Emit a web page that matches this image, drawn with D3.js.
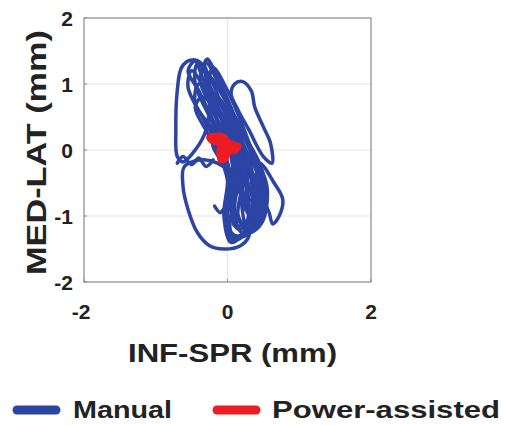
<!DOCTYPE html>
<html>
<head>
<meta charset="utf-8">
<script src="https://cdn.jsdelivr.net/npm/d3@7"></script>
<style>
  body { margin: 0; background: #fff; }
  text { font-family: "Liberation Sans", Arial, sans-serif; font-weight: bold; fill: #222; }
</style>
</head>
<body>
<svg id="chart" width="516" height="425"></svg>
<script>
// tick values
const xTicks = [-2, 0, 2];
const yTicks = [-2, -1, 0, 1, 2];
const gridX = [0];
const gridY = [-1, 0, 1];

// Manual trajectory loops (mm)
const manualDense = [
  [[-0.42,1.3],[-0.2,1.05],[0.05,0.6],[0.3,0.1],[0.45,-0.5],[0.38,-1.0],[0.12,-1.32],[0.0,-1.1],[0.05,-0.5],[-0.05,0.0],[-0.25,0.5],[-0.45,1.0]],
  [[-0.3,1.32],[-0.12,1.0],[0.1,0.5],[0.35,-0.1],[0.5,-0.6],[0.4,-1.1],[0.2,-1.25],[0.1,-0.9],[0.15,-0.4],[0.0,0.1],[-0.2,0.6],[-0.38,1.05]],
  [[-0.5,1.2],[-0.3,0.9],[-0.1,0.5],[0.2,0.0],[0.35,-0.6],[0.3,-1.15],[0.05,-1.4],[-0.05,-1.0],[0.0,-0.4],[-0.15,0.1],[-0.35,0.5],[-0.55,0.95]],
  [[-0.25,1.1],[0.0,0.7],[0.25,0.2],[0.48,-0.3],[0.52,-0.9],[0.3,-1.2],[0.15,-1.0],[0.2,-0.5],[0.1,0.0],[-0.1,0.5],[-0.3,0.9]],
  [[-0.4,1.0],[-0.15,0.8],[0.1,0.3],[0.3,-0.2],[0.42,-0.8],[0.25,-1.3],[0.05,-1.25],[0.08,-0.7],[0.0,-0.2],[-0.2,0.3],[-0.45,0.7]],
  [[-0.2,1.25],[0.0,0.9],[0.2,0.4],[0.4,-0.2],[0.55,-0.7],[0.45,-1.05],[0.25,-0.9],[0.28,-0.4],[0.15,0.1],[-0.05,0.6],[-0.25,1.0]],
  [[-0.35,0.8],[-0.1,0.55],[0.15,0.1],[0.35,-0.4],[0.35,-1.0],[0.15,-1.35],[-0.02,-1.15],[0.02,-0.6],[-0.1,-0.1],[-0.3,0.3],[-0.45,0.65]],
  [[-0.1,0.7],[0.15,0.35],[0.38,-0.1],[0.55,-0.55],[0.48,-1.1],[0.3,-1.25],[0.2,-0.85],[0.22,-0.35],[0.05,0.1],[-0.15,0.45]],
  [[-0.45,1.35],[-0.35,1.1],[-0.2,0.8],[0.0,0.35],[0.1,0.0],[0.0,0.05],[-0.2,0.45],[-0.4,0.9],[-0.55,1.2]],
  [[-0.28,1.38],[-0.18,1.2],[-0.05,0.9],[0.1,0.5],[0.2,0.1],[0.1,0.2],[-0.05,0.6],[-0.2,1.0],[-0.32,1.3]],
  [[0.0,0.2],[0.2,-0.1],[0.4,-0.5],[0.45,-0.9],[0.3,-1.15],[0.1,-1.0],[0.1,-0.5],[0.05,-0.1]],
  [[0.05,0.0],[0.3,-0.3],[0.42,-0.7],[0.35,-1.05],[0.15,-1.2],[0.05,-0.9],[0.12,-0.4]],
  [[0.1,-0.1],[0.25,-0.4],[0.35,-0.8],[0.25,-1.1],[0.1,-1.15],[0.08,-0.7]],
  [[0.15,0.2],[0.35,-0.2],[0.5,-0.6],[0.45,-1.0],[0.3,-0.95],[0.28,-0.5],[0.2,-0.1]],
  [[-0.05,0.4],[0.2,0.05],[0.35,-0.35],[0.38,-0.75],[0.22,-0.7],[0.15,-0.3],[0.05,0.1]],
  [[0.05,-0.3],[0.2,-0.6],[0.3,-1.0],[0.2,-1.3],[0.05,-1.35],[0.0,-1.0],[0.05,-0.6]],
  [[-0.15,0.8],[0.05,0.5],[0.25,0.0],[0.3,-0.3],[0.15,-0.1],[-0.05,0.3],[-0.25,0.7]],
  [[0.2,-0.2],[0.4,-0.45],[0.5,-0.8],[0.42,-1.15],[0.3,-1.2],[0.3,-0.8],[0.25,-0.45]],
  [[-0.2,0.35],[0.0,0.15],[0.15,-0.15],[0.1,-0.35],[-0.05,-0.2],[-0.2,0.05]]
];
const manualOuter = [
  [[-0.52,1.36],[-0.38,1.33],[-0.3,1.1],[-0.25,0.7],[-0.3,0.3],[-0.45,0.0],[-0.62,-0.18],[-0.7,-0.1],[-0.72,0.3],[-0.7,0.9],[-0.64,1.25]],
  [[0.1,1.0],[0.2,1.04],[0.33,0.9],[0.38,0.65],[0.5,0.35],[0.6,0.1],[0.62,-0.2],[0.5,-0.1],[0.3,0.3],[0.15,0.6],[0.05,0.85]],
  [[0.45,-0.2],[0.65,-0.5],[0.77,-0.75],[0.72,-1.0],[0.63,-1.12],[0.58,-0.95],[0.5,-0.75],[0.4,-0.5]],
  [[-0.6,-0.25],[-0.62,-0.55],[-0.55,-0.9],[-0.42,-1.25],[-0.25,-1.45],[-0.05,-1.5],[0.18,-1.45],[0.3,-1.3],[0.3,-1.0],[0.15,-0.6],[0.0,-0.3],[-0.3,-0.15]]
];
const manualOpen = [
  [[-0.7,-0.2],[-0.62,-0.1],[-0.5,-0.22],[-0.4,-0.12],[-0.3,-0.25],[-0.2,-0.15]],
  [[-0.18,-0.85],[-0.1,-0.95],[-0.05,-0.9],[0.02,-1.05],[0.0,-1.25]]
];

// Power-assisted trajectory (mm)
const powerLoops = [
  [[-0.27,0.2],[-0.18,0.23],[-0.05,0.22],[0.0,0.15],[0.08,0.1],[0.17,0.07],[0.12,-0.02],[0.02,-0.05],[-0.02,-0.15],[-0.1,-0.17],[-0.13,-0.05],[-0.12,0.08],[-0.22,0.12]],
  [[-0.12,0.15],[0.0,0.1],[0.08,0.04],[-0.02,-0.08],[-0.08,0.0]]
];

const legendItems = [
  {label: "Manual", color: "#2c44a4"},
  {label: "Power-assisted", color: "#ec1c24"}
];

const svg = d3.select("#chart");
const x = d3.scaleLinear().domain([-2, 2]).range([84, 371]);
const y = d3.scaleLinear().domain([-2, 2]).range([282, 18]);

// grid
svg.selectAll(".gx").data(gridX).enter().append("line")
  .attr("x1", d => x(d)).attr("x2", d => x(d))
  .attr("y1", y(2)).attr("y2", y(-2))
  .style("stroke", "#e4e4e4").style("stroke-width", 1);
svg.selectAll(".gy").data(gridY).enter().append("line")
  .attr("y1", d => y(d)).attr("y2", d => y(d))
  .attr("x1", x(-2)).attr("x2", x(2))
  .style("stroke", "#e4e4e4").style("stroke-width", 1);

// traces
const closedLine = d3.line().x(d => x(d[0])).y(d => y(d[1])).curve(d3.curveCatmullRomClosed.alpha(0.5));
const openLine = d3.line().x(d => x(d[0])).y(d => y(d[1])).curve(d3.curveCatmullRom.alpha(0.5));

svg.selectAll(".manual").data(manualOuter.concat(manualDense)).enter().append("path")
  .attr("d", closedLine)
  .style("fill", "none").style("stroke", legendItems[0].color)
  .style("stroke-width", 3.5).style("stroke-linejoin", "round");
svg.selectAll(".manualOpen").data(manualOpen).enter().append("path")
  .attr("d", openLine)
  .style("fill", "none").style("stroke", legendItems[0].color)
  .style("stroke-width", 3.5).style("stroke-linecap", "round");

svg.selectAll(".power").data(powerLoops).enter().append("path")
  .attr("d", closedLine)
  .style("fill", legendItems[1].color).style("stroke", legendItems[1].color)
  .style("stroke-width", 4).style("stroke-linejoin", "round");

// frame
svg.append("rect")
  .attr("x", x(-2)).attr("y", y(2))
  .attr("width", x(2) - x(-2)).attr("height", y(-2) - y(2))
  .style("fill", "none").style("stroke", "#8a8a8a").style("stroke-width", 1.2);

// tick marks (inside)
svg.selectAll(".tx").data(xTicks).enter().append("line")
  .attr("x1", d => x(d)).attr("x2", d => x(d))
  .attr("y1", y(-2)).attr("y2", y(-2) - 3)
  .style("stroke", "#8a8a8a");
svg.selectAll(".ty").data(yTicks).enter().append("line")
  .attr("y1", d => y(d)).attr("y2", d => y(d))
  .attr("x1", x(-2)).attr("x2", x(-2) + 3)
  .style("stroke", "#8a8a8a");

// tick labels
svg.selectAll(".lx").data(xTicks).enter().append("text")
  .attr("x", d => x(d) - (d < 0 ? 3 : 0)).attr("y", 319)
  .attr("text-anchor", "middle").style("font-size", "21px")
  .text(d => d);
svg.selectAll(".ly").data(yTicks).enter().append("text")
  .attr("x", 73).attr("y", d => y(d) + 7.5)
  .attr("text-anchor", "end").style("font-size", "21px")
  .text(d => d);

// axis titles
svg.append("text")
  .attr("x", 128).attr("y", 362)
  .attr("textLength", 209).attr("lengthAdjust", "spacingAndGlyphs")
  .style("font-size", "25px")
  .text("INF-SPR (mm)");
svg.append("text")
  .attr("transform", "translate(46,275) rotate(-90)")
  .attr("textLength", 245).attr("lengthAdjust", "spacingAndGlyphs")
  .style("font-size", "27px")
  .text("MED-LAT (mm)");

// legend
const legendX = [13, 213];
const legendTextX = [73, 272];
const legendTextW = [99, 228];
legendItems.forEach((item, i) => {
  svg.append("line")
    .attr("x1", legendX[i] + 4).attr("x2", legendX[i] + 43)
    .attr("y1", 410).attr("y2", 410)
    .style("stroke", item.color).style("stroke-width", 9).style("stroke-linecap", "round");
  svg.append("text")
    .attr("x", legendTextX[i]).attr("y", 418)
    .attr("textLength", legendTextW[i]).attr("lengthAdjust", "spacingAndGlyphs")
    .style("font-size", "24px")
    .text(item.label);
});
</script>
</body>
</html>
